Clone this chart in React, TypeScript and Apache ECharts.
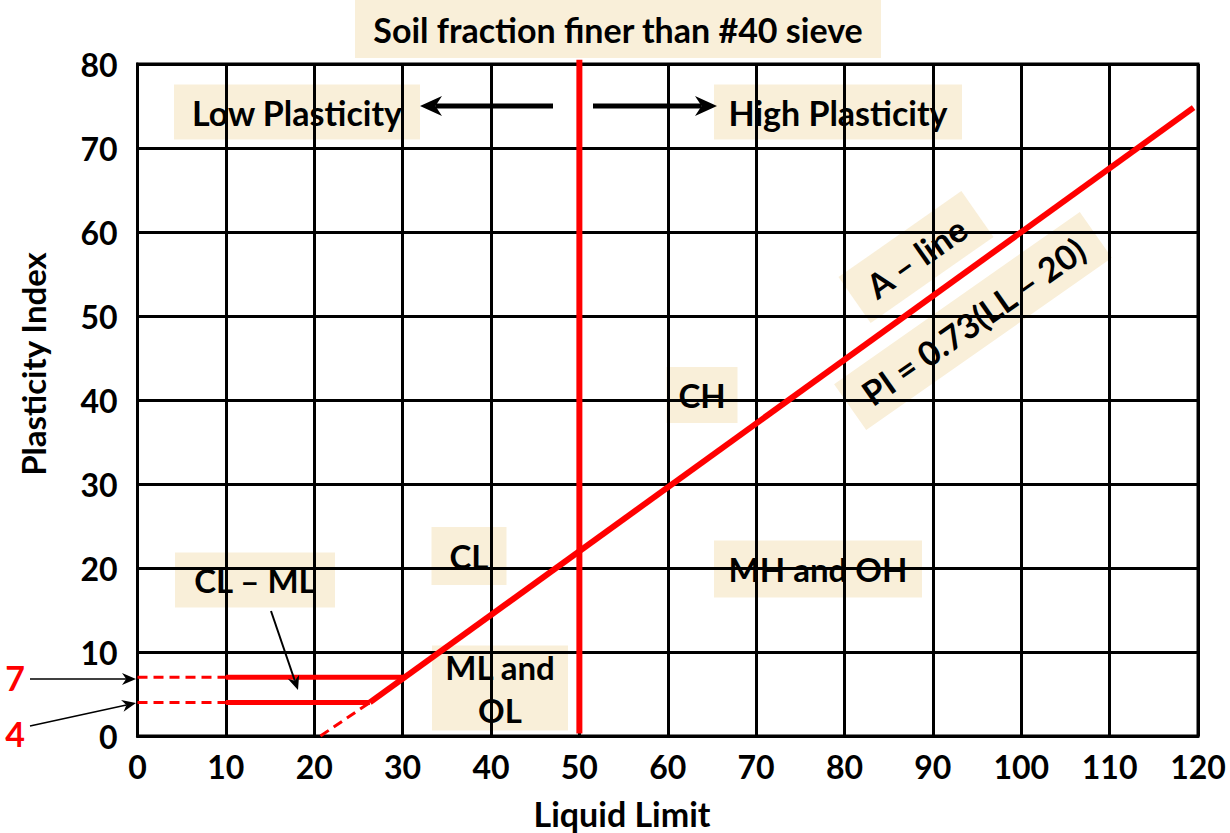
import React, { useEffect, useRef } from "react";
import * as echarts from "echarts";

// ---- data ----
const xRange = [0, 120];
const yRange = [0, 80];
const tickStep = 10;
const aLine: [number, number][] = [[26.3, 4], [119.5, 74.8]];
const aLineDashed: [number, number][] = [[20.7, 0], [26.3, 4]];
const clmlUpper: [number, number][] = [[10, 7], [30.4, 7]];
const clmlLower: [number, number][] = [[10, 4], [26.3, 4]];
const upperDashed: [number, number][] = [[0, 7], [10, 7]];
const lowerDashed: [number, number][] = [[0, 4], [10, 4]];
const llDivider: [number, number][] = [[50, 0.3], [50, 80.5]];
const markedValues = ["7", "4"];

const FONT = "Lato";
const BEIGE = "#F9EFD9";
const RED = "#FF0000";

function txtStyle(text: string, size: number, fill = "#000", lh?: number) {
  return {
    text,
    x: 0,
    y: 0,
    align: "center",
    verticalAlign: "middle",
    fontFamily: FONT,
    fontWeight: "bold",
    fontSize: size,
    fill,
    lineHeight: lh ?? Math.round(size * 1.2),
  };
}

function box(cx: number, cy: number, w: number, h: number, text: string, size = 33, lh?: number) {
  return {
    type: "group",
    x: cx,
    y: cy,
    z: 20,
    children: [
      { type: "rect", shape: { x: -w / 2, y: -h / 2, width: w, height: h }, style: { fill: BEIGE } },
      { type: "text", style: txtStyle(text, size, "#000", lh) },
    ],
  };
}

function rotBox(cx: number, cy: number, w: number, h: number, text: string, deg: number) {
  const g: any = box(cx, cy, w, h, text, 34);
  g.rotation = (deg * Math.PI) / 180;
  return g;
}

function freeText(x: number, y: number, text: string, size: number, fill = "#000", rotation = 0) {
  return { type: "text", z: 30, x, y, rotation, style: txtStyle(text, size, fill) };
}

function arrow(x1: number, y1: number, x2: number, y2: number, width: number, headLen: number, headHalf: number) {
  const ang = Math.atan2(y2 - y1, x2 - x1);
  const bx = x2 - headLen * Math.cos(ang);
  const by = y2 - headLen * Math.sin(ang);
  const px = -Math.sin(ang) * headHalf;
  const py = Math.cos(ang) * headHalf;
  const mx = bx + (x2 - bx) * 0.3;
  const my = by + (y2 - by) * 0.3;
  return [
    { type: "line", z: 25, shape: { x1, y1, x2: mx, y2: my }, style: { stroke: "#000", lineWidth: width } },
    {
      type: "polygon",
      z: 25,
      shape: { points: [[x2, y2], [bx + px, by + py], [mx, my], [bx - px, by - py]] },
      style: { fill: "#000" },
    },
  ];
}

function redLine(data: [number, number][], width: number, dashed = false) {
  return {
    type: "line",
    data,
    symbol: "none",
    clip: false,
    z: 5,
    lineStyle: { color: RED, width, type: dashed ? [10, 6] : "solid", cap: "butt" },
  };
}

export default function App() {
  const ref = useRef<HTMLDivElement>(null);
  useEffect(() => {
    if (!ref.current) return;
    const chart = echarts.init(ref.current, undefined, { renderer: "svg" });
    const axisCommon = {
      type: "value",
      interval: tickStep,
      axisLine: { show: true, lineStyle: { color: "#000", width: 3 } },
      axisTick: { show: false },
      splitLine: { show: true, lineStyle: { color: "#000", width: 3 } },
      axisLabel: { color: "#000", fontFamily: FONT, fontWeight: "bold", fontSize: 32 },
    };
    chart.setOption({
      animation: false,
      backgroundColor: "#fff",
      grid: { left: 137.5, right: 32, top: 64, bottom: 97, show: true, borderColor: "#000", borderWidth: 3 },
      xAxis: { ...axisCommon, min: xRange[0], max: xRange[1], axisLabel: { ...axisCommon.axisLabel, margin: 14 } },
      yAxis: { ...axisCommon, min: yRange[0], max: yRange[1], axisLabel: { ...axisCommon.axisLabel, margin: 20 } },
      series: [
        redLine(aLine, 6),
        redLine(aLineDashed, 3, true),
        redLine(clmlUpper, 5),
        redLine(clmlLower, 5),
        redLine(upperDashed, 3, true),
        redLine(lowerDashed, 3, true),
        redLine(llDivider, 6),
      ],
      graphic: [
        box(618, 29, 526, 58, "Soil fraction finer than #40 sieve", 34),
        box(297, 112, 246, 55, "Low Plasticity", 34),
        box(838, 112, 248, 55, "High Plasticity", 34),
        box(702, 395, 71, 56, "CH"),
        box(469, 556, 75, 58, "CL"),
        box(255, 580, 160, 55, "CL – ML"),
        box(818, 569, 208, 57, "MH and OH"),
        box(500, 688, 136, 85, "ML and\nOL", 33, 43),
        rotBox(916, 257, 150, 56, "A – line", 35),
        rotBox(973, 321, 300, 56, "PI = 0.73(LL – 20)", 35),
        ...arrow(553, 106, 420, 106, 5, 22, 10),
        ...arrow(593, 106, 717, 106, 5, 22, 10),
        ...arrow(271, 611, 298, 690, 2, 14, 6),
        ...arrow(30, 679, 136, 679, 1.5, 14, 6),
        ...arrow(30, 726, 136, 703, 1.5, 14, 6),
        freeText(15, 677, markedValues[0], 34, RED),
        freeText(15, 733, markedValues[1], 34, RED),
        freeText(622, 813, "Liquid Limit", 34),
        freeText(33, 364, "Plasticity Index", 33, "#000", Math.PI / 2),
      ],
    });
    return () => chart.dispose();
  }, []);
  return (
    <div
      ref={ref}
      style={{ position: "absolute", left: 0, top: 0, width: 1230, height: 833, background: "#fff" }}
    />
  );
}
